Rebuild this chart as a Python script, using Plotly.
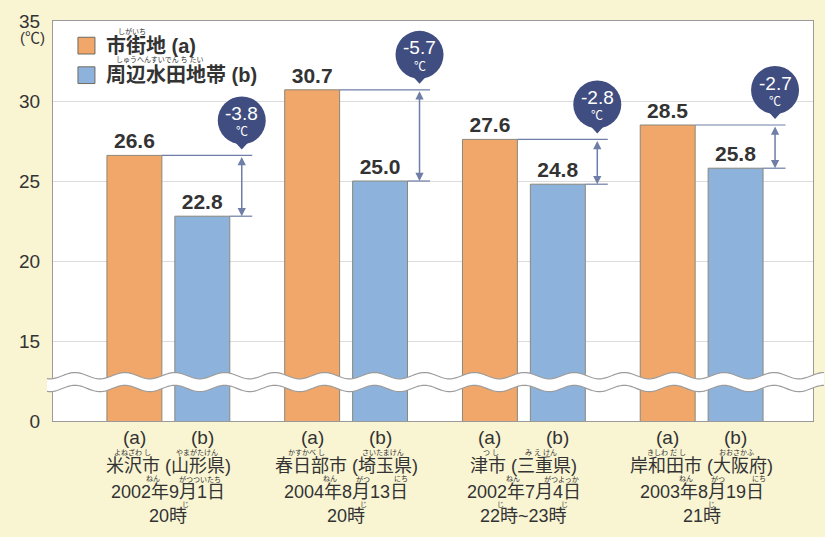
import math
import plotly.graph_objects as go

# ---------------- data ----------------
groups = [0, 1, 2, 3]
urban_a = [26.6, 30.7, 27.6, 28.5]          # 市街地 (a)
paddy_b = [22.8, 25.0, 24.8, 25.8]          # 周辺水田地帯 (b)
city_labels = ["米沢市 (山形県)", "春日部市 (埼玉県)", "津市 (三重県)", "岸和田市 (大阪府)"]
date_labels = ["2002年9月1日", "2004年8月13日", "2002年7月4日", "2003年8月19日"]
time_labels = ["20時", "20時", "22時~23時", "21時"]
y_tickvals = [10, 15, 20, 25, 30, 35]
y_ticktext = ["0", "15", "20", "25", "30", "35"]
series_names = ["市街地 (a)", "周辺水田地帯 (b)"]

# ruby (furigana): (group, text, pixel offset from group centre, row)
ruby = [
    (0, "よねざわ し", -36, "city"), (0, "やまがたけん", 29, "city"),
    (0, "ねん", -15, "date"), (0, "がつついたち", 32, "date"), (0, "じ", 17, "time"),
    (1, "かすかべ し", -40, "city"), (1, "さいたまけん", 37, "city"),
    (1, "ねん", -16, "date"), (1, "がつ", 17, "date"), (1, "にち", 55, "date"), (1, "じ", 17, "time"),
    (2, "つ し", -33, "city"), (2, "み え けん", 17, "city"),
    (2, "ねん", -11, "date"), (2, "がつよっか", 38, "date"), (2, "じ", -23, "time"), (2, "じ", 41, "time"),
    (3, "きしわ だ し", -35, "city"), (3, "おおさかふ", 35, "city"),
    (3, "ねん", -16, "date"), (3, "がつ", 16, "date"), (3, "にち", 57, "date"), (3, "じ", 10, "time"),
]

# ---------------- style ----------------
ORANGE = "#F0A769"
BLUE = "#8DB3DD"
EDGE = "#8a877b"
NAVY = "#404d80"
LINE = "#6f7ea6"
TXT = "#333333"
PAPER = "#F9F5D3"
NUM_FONT = "Liberation Sans, Arial, Noto Sans CJK JP"

W, H = 825, 537
ML, MR, MT, MB = 53, 11, 15, 116
PW, PH = W - ML - MR, H - MT - MB
UNIT = 178.0                      # pixels per group
BAR_W = 55 / UNIT
OFF_A = -61.5 / UNIT
OFF_B = 6.5 / UNIT
ARROW_DX = 73.5 / UNIT
LINE_END = 84 / UNIT
X_RANGE = [-(168.5 - ML) / UNIT, 3 + (814 - 702.5) / UNIT]


def pp(px, py):
    """figure pixel -> paper coordinates"""
    return (px - ML) / PW, (MT + PH - py) / PH


fig = go.Figure()
fig.add_trace(go.Bar(
    x=groups, y=urban_a, name=series_names[0], width=BAR_W, offset=OFF_A,
    marker=dict(color=ORANGE, line=dict(color=EDGE, width=1)),
    text=urban_a, texttemplate="%{y:.1f}", textposition="outside",
    textfont=dict(family=NUM_FONT, size=21, color=TXT, weight="bold"),
    cliponaxis=False, constraintext="none", showlegend=False,
))
fig.add_trace(go.Bar(
    x=groups, y=paddy_b, name=series_names[1], width=BAR_W, offset=OFF_B,
    marker=dict(color=BLUE, line=dict(color=EDGE, width=1)),
    text=paddy_b, texttemplate="%{y:.1f}", textposition="outside",
    textfont=dict(family=NUM_FONT, size=21, color=TXT, weight="bold"),
    cliponaxis=False, constraintext="none", showlegend=False,
))

shapes = []
annotations = []

# difference markers
for g, a, b in zip(groups, urban_a, paddy_b):
    xa = g + ARROW_DX
    shapes.append(dict(type="line", xref="x", yref="y", x0=g + OFF_A + BAR_W, x1=g + LINE_END,
                       y0=a, y1=a, line=dict(color=LINE, width=1.2)))
    shapes.append(dict(type="line", xref="x", yref="y", x0=g + OFF_B + BAR_W, x1=g + LINE_END,
                       y0=b, y1=b, line=dict(color=LINE, width=1.2)))
    annotations.append(dict(x=xa, y=b, ax=xa, ay=a, xref="x", yref="y", axref="x", ayref="y",
                            text="", showarrow=True, arrowhead=2, arrowside="end+start",
                            arrowsize=1.1, arrowwidth=1.5, arrowcolor=LINE, standoff=0, startstandoff=0))
    shapes.append(dict(type="circle", xref="x", yref="y", xsizemode="pixel", ysizemode="pixel",
                       xanchor=xa, yanchor=a, x0=-24, x1=24, y0=11, y1=59,
                       fillcolor=NAVY, line=dict(width=0)))
    shapes.append(dict(type="path", xref="x", yref="y", xsizemode="pixel", ysizemode="pixel",
                       xanchor=xa, yanchor=a, path="M -10 17 L 10 17 L 0 6 Z",
                       fillcolor=NAVY, line=dict(width=0)))
    annotations.append(dict(x=xa, y=a, xref="x", yref="y", text=f"{b - a:.1f}", showarrow=False,
                            yshift=42, borderpad=0,
                            font=dict(family=NUM_FONT, size=19, color="white")))
    annotations.append(dict(x=xa, y=a, xref="x", yref="y", text="℃", showarrow=False,
                            yshift=23, borderpad=0,
                            font=dict(family=NUM_FONT, size=12, color="white")))

# axis break (wavy white band)
top_pts, bot_pts = [], []
for px in range(47, W + 2, 2):
    s = 3.2 * math.sin(2 * math.pi * (px - 47) / 50.0 + 1.2)
    top_pts.append(pp(px, 375 + s))
    bot_pts.append(pp(px, 388 + s))
fill_path = "M " + " L ".join(f"{x:.4f},{y:.4f}" for x, y in top_pts + bot_pts[::-1]) + " Z"
shapes.append(dict(type="path", xref="paper", yref="paper", path=fill_path,
                   fillcolor="white", line=dict(width=0)))
for pts in (top_pts, bot_pts):
    shapes.append(dict(type="path", xref="paper", yref="paper",
                       path="M " + " L ".join(f"{x:.4f},{y:.4f}" for x, y in pts),
                       line=dict(color="#9c9c9c", width=1.2)))


# x category labels
def below(py):
    return -(py - (MT + PH))


for g in groups:
    annotations.append(dict(x=g + OFF_A + BAR_W / 2, y=0, xref="x", yref="paper", text="(a)",
                            showarrow=False, yanchor="middle", yshift=below(437), borderpad=0,
                            font=dict(family=NUM_FONT, size=19, color=TXT)))
    annotations.append(dict(x=g + OFF_B + BAR_W / 2, y=0, xref="x", yref="paper", text="(b)",
                            showarrow=False, yanchor="middle", yshift=below(437), borderpad=0,
                            font=dict(family=NUM_FONT, size=19, color=TXT)))
    for txt, py in ((city_labels[g], 466), (date_labels[g], 491.5), (time_labels[g], 516)):
        annotations.append(dict(x=g, y=0, xref="x", yref="paper", text=txt, showarrow=False,
                                yanchor="middle", yshift=below(py), borderpad=0,
                                font=dict(family=NUM_FONT, size=18, color=TXT)))

ruby_y = {"city": 452.5, "date": 479, "time": 504}
for g, txt, dx, row in ruby:
    annotations.append(dict(x=g, y=0, xref="x", yref="paper", text=txt, showarrow=False,
                            xshift=dx, yanchor="middle", yshift=below(ruby_y[row]), borderpad=0,
                            font=dict(family=NUM_FONT, size=7, color=TXT)))

# unit label
ux, uy = pp(32, 32)
annotations.append(dict(x=ux, y=uy, xref="paper", yref="paper", text="(℃)",
                        showarrow=False, xanchor="center", yanchor="middle",
                        font=dict(family=NUM_FONT, size=15, color=TXT)))

# manual legend
for (col, name, cy, rtxt, rx, ry) in ((ORANGE, series_names[0], 40, "しがいち", 132, 25.5),
                                       (BLUE, series_names[1], 70, "しゅうへんすいでん ち たい", 160, 55)):
    x0, y0 = pp(78, cy - 8.5)
    x1, y1 = pp(95, cy + 8.5)
    shapes.append(dict(type="rect", xref="paper", yref="paper", x0=x0, x1=x1, y0=y1, y1=y0,
                       fillcolor=col, line=dict(color="#6e6a60", width=1)))
    tx, ty = pp(105, cy)
    annotations.append(dict(x=tx, y=ty, xref="paper", yref="paper", text=name, showarrow=False,
                            xanchor="left", yanchor="middle", borderpad=0,
                            font=dict(family=NUM_FONT, size=20, color=TXT, weight="bold")))
    rxp, ryp = pp(rx, ry)
    annotations.append(dict(x=rxp, y=ryp, xref="paper", yref="paper", text=rtxt, showarrow=False,
                            xanchor="center", yanchor="middle", borderpad=0,
                            font=dict(family=NUM_FONT, size=7, color=TXT)))

fig.update_layout(
    width=W, height=H, autosize=False,
    margin=dict(l=ML, r=MR, t=MT, b=MB),
    paper_bgcolor=PAPER, plot_bgcolor="white",
    barmode="overlay", showlegend=False,
    shapes=shapes, annotations=annotations,
    xaxis=dict(range=X_RANGE, showticklabels=False, showgrid=False, zeroline=False,
               showline=True, linecolor="#9a9a9a", linewidth=1, mirror=True, ticks=""),
    yaxis=dict(range=[10, 35], tickvals=y_tickvals, ticktext=y_ticktext,
               showgrid=True, gridcolor="#dcdcdc", gridwidth=1, zeroline=False,
               showline=True, linecolor="#9a9a9a", linewidth=1, mirror=True, ticks="",
               ticklabelstandoff=8,
               tickfont=dict(family=NUM_FONT, size=19, color=TXT)),
)

fig.write_html("out.html", config={"displayModeBar": False},
               post_script="document.body.style.margin='0';document.body.style.padding='0';")
